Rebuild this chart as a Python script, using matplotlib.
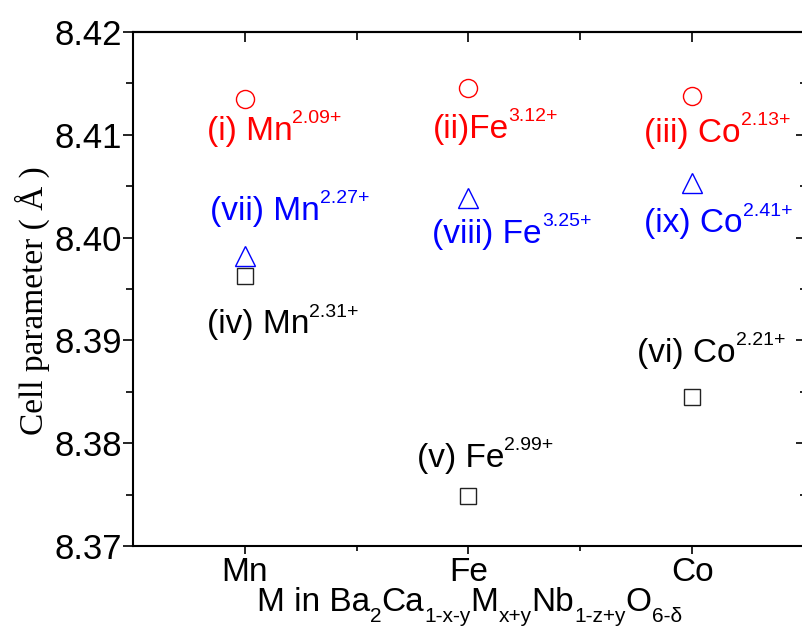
import numpy as np
import matplotlib
matplotlib.use('Agg')
import matplotlib.pyplot as plt
from matplotlib.ticker import FixedLocator, MultipleLocator, FormatStrFormatter

plt.rcParams['font.family'] = ['Liberation Sans', 'DejaVu Sans']

# dados
metais = ['Mn', 'Fe', 'Co']
serie_circulo = [8.4135, 8.4146, 8.4138]    # (i)-(iii), vermelho
serie_triangulo = [8.3982, 8.4039, 8.4053]  # (vii)-(ix), azul
serie_quadrado = [8.3963, 8.3749, 8.3845]   # (iv)-(vi), preto

rotulos_circulo = [('(i) Mn', '2.09+'), ('(ii)Fe', '3.12+'), ('(iii) Co', '2.13+')]
rotulos_triangulo = [('(vii) Mn', '2.27+'), ('(viii) Fe', '3.25+'), ('(ix) Co', '2.41+')]
rotulos_quadrado = [('(iv) Mn', '2.31+'), ('(v) Fe', '2.99+'), ('(vi) Co', '2.21+')]

# posicoes dos rotulos (canto esquerdo, linha de base) em coordenadas de dados
pos_circulo = [(0.830, 8.4095), (1.839, 8.4097), (2.786, 8.4093)]
pos_triangulo = [(0.844, 8.4017), (1.839, 8.3995), (2.786, 8.4005)]
pos_quadrado = [(0.830, 8.3907), (1.768, 8.3777), (2.754, 8.3879)]

FS = 24      # fonte principal
FS_SUP = 14  # fonte do expoente


def texto_rico(ax, x, y, partes, cor, coords='data', tam_sub=FS_SUP):
    # partes: lista de (texto, tipo) com tipo '' , 'sup' ou 'sub'
    ant = None
    for s, tipo in partes:
        tam = FS if tipo == '' else tam_sub
        dy = {'': 0, 'sup': 12, 'sub': -8}[tipo]
        if ant is None:
            ant = ax.annotate(s, xy=(x, y), xycoords=coords, xytext=(0, dy),
                              textcoords='offset points', fontsize=tam,
                              color=cor, ha='left', va='baseline')
        else:
            ant = ax.annotate(s, xy=(1, y), xycoords=(ant, coords), xytext=(0, dy),
                              textcoords='offset points', fontsize=tam,
                              color=cor, ha='left', va='baseline')
    return ant


fig = plt.figure(figsize=(8.03, 6.26), dpi=100)
ax = fig.add_axes([133 / 803, 80 / 626, 671 / 803, 514 / 626])

x = np.arange(1, len(metais) + 1)
ax.plot(x, serie_circulo, 'o', ms=13, mfc='none', mec='#ff0000', mew=1.0, ls='none')
ax.plot(x, serie_triangulo, '^', ms=14, mfc='none', mec='#0000ff', mew=1.0, ls='none')
ax.plot(x, serie_quadrado, 's', ms=11.5, mfc='none', mec='#222222', mew=1.0, ls='none')

for rot, pos, cor in [(rotulos_circulo, pos_circulo, '#ff0000'),
                      (rotulos_triangulo, pos_triangulo, '#0000ff'),
                      (rotulos_quadrado, pos_quadrado, 'black')]:
    for (base, exp), (px, py) in zip(rot, pos):
        texto_rico(ax, px, py, [(base, ''), (exp, 'sup')], cor)

# eixos
ax.set_xlim(0.5, 3.5)
ax.set_ylim(8.37, 8.42)
ax.set_xticks(x)
ax.set_xticklabels(metais, fontsize=24)
ax.xaxis.set_minor_locator(FixedLocator([1.5, 2.5]))
ax.yaxis.set_major_locator(MultipleLocator(0.01))
ax.yaxis.set_minor_locator(MultipleLocator(0.005))
ax.yaxis.set_major_formatter(FormatStrFormatter('%.2f'))
ax.tick_params(axis='y', which='major', direction='out', length=7, width=1.2,
               labelsize=25, pad=1, right=False)
ax.tick_params(axis='y', which='minor', direction='out', length=5, width=1.2, right=False)
ax.tick_params(axis='x', which='major', direction='out', length=6, width=1.2,
               pad=2, top=False)
ax.tick_params(axis='x', which='minor', direction='out', length=3.5, width=1.2, top=False)
for sp in ax.spines.values():
    sp.set_linewidth(1.5)

# eixo de cima e da direita com ticks para dentro
topo = ax.secondary_xaxis('top')
topo.set_xticks(x)
topo.xaxis.set_minor_locator(FixedLocator([1.5, 2.5]))
topo.tick_params(axis='x', which='major', direction='in', length=7, width=1.2, labeltop=False)
topo.tick_params(axis='x', which='minor', direction='in', length=6, width=1.2)
topo.spines['top'].set_linewidth(1.5)

direita = ax.secondary_yaxis('right')
direita.yaxis.set_major_locator(MultipleLocator(0.01))
direita.yaxis.set_minor_locator(MultipleLocator(0.005))
direita.tick_params(axis='y', which='major', direction='in', length=6, width=1.2, labelright=False)
direita.tick_params(axis='y', which='minor', direction='in', length=3, width=1.2)
direita.spines['right'].set_linewidth(1.5)

# titulos dos eixos
fig.text(32 / 803, 1 - 301 / 626, 'Cell parameter ( Å )', rotation=90,
         family='Liberation Serif', fontsize=24, ha='center', va='center')

partes_x = [('M in Ba', ''), ('2', 'sub'), ('Ca', ''), ('1-x-y', 'sub'), ('M', ''),
            ('x+y', 'sub'), ('Nb', ''), ('1-z+y', 'sub'), ('O', ''), ('6-δ', 'sub')]
texto_rico(ax, 257 / 803, 15 / 626, partes_x, 'black', coords='figure fraction', tam_sub=15)

fig.savefig('out.png', dpi=100)
